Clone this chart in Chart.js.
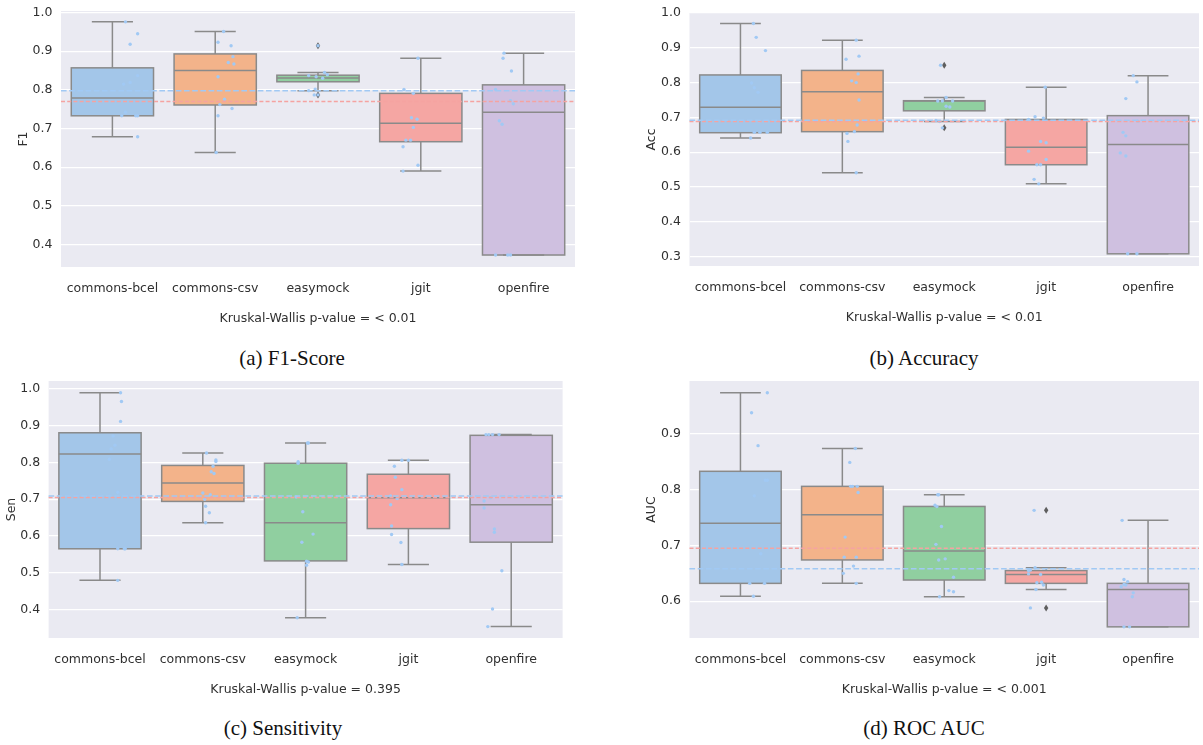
<!DOCTYPE html>
<html>
<head>
<meta charset="utf-8">
<script src="https://cdn.jsdelivr.net/npm/chart.js@4.4.1/dist/chart.umd.min.js"></script>
<style>
    html, body { margin: 0; padding: 0; background: #fff; overflow: hidden; }
    #fig { position: relative; width: 1203px; height: 745px; }
    #fig canvas { position: absolute; }
    .cap {
        position: absolute;
        font-family: "Liberation Serif", "Times New Roman", serif;
        font-size: 21px;
        color: #111;
        white-space: nowrap;
        transform: translate(-50%, -50%);
    }
</style>
</head>
<body>
<div id="fig"></div>
<script>
const projects = ["commons-bcel", "commons-csv", "easymock", "jgit", "openfire"];

// (a) F1-Score
const f1Low    = [0.679, 0.638, 0.798, 0.590, 0.373];
const f1Q1     = [0.733, 0.761, 0.821, 0.666, 0.373];
const f1Median = [0.779, 0.850, 0.831, 0.714, 0.742];
const f1Q3     = [0.857, 0.893, 0.838, 0.791, 0.813];
const f1High   = [0.976, 0.951, 0.845, 0.882, 0.895];
const f1Fliers = [[], [], [0.914, 0.787], [], []];
const f1Points = [
    [0.976, 0.945, 0.918, 0.837, 0.815, 0.819, 0.742, 0.733, 0.733, 0.733, 0.679],
    [0.951, 0.923, 0.914, 0.886, 0.871, 0.867, 0.834, 0.776, 0.762, 0.752, 0.733, 0.638],
    [0.914, 0.845, 0.837, 0.834, 0.839, 0.830, 0.802, 0.798, 0.787, 0.787],
    [0.882, 0.801, 0.791, 0.728, 0.724, 0.703, 0.670, 0.670, 0.653, 0.605, 0.590],
    [0.895, 0.882, 0.849, 0.801, 0.772, 0.764, 0.720, 0.711, 0.373, 0.373, 0.373]
];
const f1Jitter = [
    [-0.06, 0.07, -0.01, 0.07, -0.08, -0.01, -0.06, -0.10, 0.05, 0.07, 0.07],
    [-0.01, -0.07, 0.07, 0.09, 0.04, 0.10, -0.07, 0.00, -0.05, 0.08, -0.07, -0.09],
    [0.00, 0.07, -0.10, -0.02, 0.10, 0.05, -0.03, -0.10, -0.04, 0.00],
    [0.07, -0.08, 0.02, 0.00, 0.06, 0.02, -0.06, -0.01, -0.09, 0.07, -0.09],
    [-0.01, -0.02, 0.07, -0.10, 0.06, 0.09, -0.06, -0.03, -0.10, 0.03, 0.06]
];
const f1Refs  = [0.770, 0.798];   // red, blue
const f1Ticks = [0.4, 0.5, 0.6, 0.7, 0.8, 0.9, 1.0];
const f1Range = [0.342, 1.004];

// (b) Accuracy
const accLow    = [0.641, 0.541, 0.688, 0.509, 0.308];
const accQ1     = [0.656, 0.659, 0.719, 0.564, 0.308];
const accMedian = [0.729, 0.774, 0.747, 0.614, 0.622];
const accQ3     = [0.822, 0.835, 0.748, 0.694, 0.705];
const accHigh   = [0.970, 0.922, 0.757, 0.787, 0.820];
const accFliers = [[], [], [0.850, 0.670], [], []];
const accPoints = [
    [0.970, 0.930, 0.892, 0.799, 0.785, 0.772, 0.688, 0.657, 0.657, 0.657, 0.641],
    [0.922, 0.867, 0.876, 0.825, 0.805, 0.800, 0.750, 0.678, 0.654, 0.659, 0.631, 0.541],
    [0.850, 0.757, 0.747, 0.747, 0.747, 0.732, 0.730, 0.691, 0.688, 0.670],
    [0.787, 0.702, 0.698, 0.694, 0.631, 0.627, 0.603, 0.579, 0.564, 0.564, 0.522, 0.509],
    [0.820, 0.802, 0.754, 0.689, 0.657, 0.647, 0.598, 0.589, 0.308, 0.308]
];
const accJitter = [
    [-0.06, -0.03, 0.07, -0.08, -0.05, -0.01, 0.00, -0.05, 0.01, 0.09, -0.09],
    [0.05, -0.06, 0.08, 0.07, 0.00, 0.05, 0.08, 0.06, -0.05, 0.03, -0.04, 0.05],
    [-0.04, 0.02, -0.07, -0.02, 0.09, 0.02, 0.06, -0.09, -0.05, -0.02],
    [0.09, -0.02, 0.07, -0.09, 0.04, 0.10, -0.09, 0.10, 0.00, 0.04, -0.03, 0.02],
    [0.04, 0.08, -0.04, 0.09, -0.07, -0.04, -0.10, -0.04, -0.02, 0.08]
];
const accRefs  = [0.688, 0.692];
const accTicks = [0.3, 0.4, 0.5, 0.6, 0.7, 0.8, 0.9, 1.0];
const accRange = [0.273, 1.0];

// (c) Sensitivity
const senLow    = [0.479, 0.636, 0.377, 0.522, 0.353];
const senQ1     = [0.565, 0.694, 0.532, 0.620, 0.583];
const senMedian = [0.823, 0.744, 0.636, 0.704, 0.685];
const senQ3     = [0.881, 0.792, 0.798, 0.768, 0.874];
const senHigh   = [0.990, 0.826, 0.853, 0.806, 0.876];
const senFliers = [[], [], [], [], []];
const senPoints = [
    [0.990, 0.966, 0.912, 0.872, 0.847, 0.837, 0.809, 0.719, 0.565, 0.565, 0.565, 0.479],
    [0.826, 0.807, 0.803, 0.790, 0.775, 0.770, 0.717, 0.712, 0.700, 0.681, 0.663, 0.636],
    [0.853, 0.853, 0.802, 0.798, 0.706, 0.666, 0.605, 0.583, 0.531, 0.529, 0.520, 0.377],
    [0.806, 0.806, 0.790, 0.760, 0.726, 0.709, 0.702, 0.685, 0.627, 0.604, 0.582, 0.522],
    [0.876, 0.876, 0.876, 0.876, 0.704, 0.695, 0.676, 0.619, 0.610, 0.505, 0.401, 0.353]
];
const senJitter = [
    [0.02, 0.03, 0.02, -0.06, -0.04, -0.08, -0.10, -0.01, -0.01, 0.06, 0.07, -0.01],
    [-0.06, 0.04, 0.04, 0.01, -0.01, 0.02, -0.10, -0.02, -0.08, -0.07, -0.03, -0.07],
    [0.02, 0.03, -0.08, -0.08, -0.10, -0.03, 0.08, -0.04, 0.01, 0.03, 0.01, -0.09],
    [0.03, 0.10, -0.05, -0.04, 0.03, -0.09, -0.02, -0.09, -0.08, -0.08, 0.02, 0.03],
    [-0.07, -0.04, 0.00, 0.07, -0.02, -0.09, -0.09, 0.02, 0.02, 0.10, 0.00, -0.05]
];
const senRefs  = [0.705, 0.709];
const senTicks = [0.4, 0.5, 0.6, 0.7, 0.8, 0.9, 1.0];
const senRange = [0.322, 1.022];

// (d) ROC AUC
const aucLow    = [0.609, 0.632, 0.608, 0.621, 0.554];
const aucQ1     = [0.632, 0.674, 0.638, 0.632, 0.554];
const aucMedian = [0.740, 0.755, 0.690, 0.648, 0.621];
const aucQ3     = [0.833, 0.806, 0.770, 0.655, 0.632];
const aucHigh   = [0.974, 0.874, 0.791, 0.660, 0.745];
const aucFliers = [[], [], [], [0.763, 0.588], []];
const aucPoints = [
    [0.974, 0.938, 0.879, 0.817, 0.817, 0.789, 0.685, 0.632, 0.632, 0.609],
    [0.874, 0.849, 0.806, 0.806, 0.806, 0.795, 0.715, 0.679, 0.679, 0.663, 0.650, 0.632],
    [0.791, 0.791, 0.772, 0.770, 0.734, 0.702, 0.674, 0.676, 0.643, 0.619, 0.617, 0.608],
    [0.763, 0.660, 0.655, 0.656, 0.649, 0.648, 0.633, 0.634, 0.629, 0.621, 0.588],
    [0.745, 0.639, 0.635, 0.630, 0.629, 0.626, 0.615, 0.608, 0.554, 0.554]
];
const aucJitter = [
    [0.09, -0.08, -0.01, 0.07, 0.09, -0.05, 0.02, -0.10, 0.06, -0.06],
    [0.04, -0.02, -0.01, 0.01, 0.06, 0.07, -0.07, -0.08, 0.05, 0.02, -0.09, 0.05],
    [-0.07, -0.06, -0.10, -0.08, -0.03, -0.09, -0.06, 0.01, 0.10, 0.05, 0.10, -0.05],
    [-0.03, -0.02, -0.09, -0.07, -0.09, 0.04, 0.00, 0.05, 0.07, -0.01, -0.07],
    [-0.08, -0.06, -0.02, -0.06, -0.04, -0.09, 0.04, 0.03, -0.06, 0.00]
];
const aucRefs  = [0.695, 0.658];
const aucTicks = [0.6, 0.7, 0.8, 0.9];
const aucRange = [0.534, 0.995];

// colours
const boxColors = ["#a3c6e9", "#f3b38a", "#90cfa0", "#f5a6a3", "#cfc0e0"];
const edgeColor = "#8a8a8a";
const flierColor = "#5e5e5e";
const stripColor = "#a1c9f4";
const refColors = ["#f5a3a1", "#a1c9f4"];
const refDash = [[4, 2.2], [5.6, 2.6]];
const textColor = "#303030";
const sansFont = { family: "DejaVu Sans", size: 12.5 };

const panels = [
    { label: "F1", test: "Kruskal-Wallis p-value = < 0.01", caption: "(a) F1-Score",
      low: f1Low, q1: f1Q1, med: f1Median, q3: f1Q3, high: f1High, fliers: f1Fliers,
      points: f1Points, jitter: f1Jitter, refs: f1Refs, ticks: f1Ticks, range: f1Range,
      box: { left: 0, right: 600, plotLeft: 61, plotRight: 575, plotTop: 10, plotBottom: 267, yTitleX: 23.5, capX: 292, capY: 358 } },
    { label: "Acc", test: "Kruskal-Wallis p-value = < 0.01", caption: "(b) Accuracy",
      low: accLow, q1: accQ1, med: accMedian, q3: accQ3, high: accHigh, fliers: accFliers,
      points: accPoints, jitter: accJitter, refs: accRefs, ticks: accTicks, range: accRange,
      box: { left: 600, right: 1203, plotLeft: 689.5, plotRight: 1203, plotTop: 12.3, plotBottom: 266.7, yTitleX: 652, capX: 924, capY: 358 } },
    { label: "Sen", test: "Kruskal-Wallis p-value = 0.395", caption: "(c) Sensitivity",
      low: senLow, q1: senQ1, med: senMedian, q3: senQ3, high: senHigh, fliers: senFliers,
      points: senPoints, jitter: senJitter, refs: senRefs, ticks: senTicks, range: senRange,
      box: { left: 0, right: 600, plotLeft: 48.6, plotRight: 562.6, plotTop: 379.7, plotBottom: 638, yTitleX: 11.5, capX: 283, capY: 728 } },
    { label: "AUC", test: "Kruskal-Wallis p-value = < 0.001", caption: "(d) ROC AUC",
      low: aucLow, q1: aucQ1, med: aucMedian, q3: aucQ3, high: aucHigh, fliers: aucFliers,
      points: aucPoints, jitter: aucJitter, refs: aucRefs, ticks: aucTicks, range: aucRange,
      box: { left: 600, right: 1203, plotLeft: 689.5, plotRight: 1203, plotTop: 379.7, plotBottom: 638, yTitleX: 652, capX: 924, capY: 728 } }
];

const fig = document.getElementById("fig");
const TOP_PAD = 15;
const X_AXIS_H = 75;

// whiskers, caps, medians, fliers and reference lines drawn through the chart scales
function boxParts(p) {
    return {
        id: "boxParts",
        beforeDraw(chart) {
            const a = chart.chartArea;
            const ctx = chart.ctx;
            ctx.save();
            ctx.fillStyle = "#eaeaf2";
            ctx.fillRect(a.left, a.top, a.right - a.left, a.bottom - a.top);
            ctx.restore();
        },
        afterDatasetDraw(chart, args) {
            if (args.index !== 0) return;
            const ctx = chart.ctx;
            const xs = chart.scales.x;
            const ys = chart.scales.y;
            const bars = chart.getDatasetMeta(0).data;

            ctx.save();
            ctx.strokeStyle = edgeColor;
            ctx.lineWidth = 1.5;
            const seg = (x1, y1, x2, y2) => {
                ctx.beginPath();
                ctx.moveTo(x1, y1);
                ctx.lineTo(x2, y2);
                ctx.stroke();
            };

            p.med.forEach((m, i) => {
                const cx = xs.getPixelForValue(i);
                const half = bars[i].width / 2;
                const cap = half / 2;
                // box outline drawn centred on the edge, like matplotlib
                ctx.strokeRect(cx - half, ys.getPixelForValue(p.q3[i]), half * 2,
                    ys.getPixelForValue(p.q1[i]) - ys.getPixelForValue(p.q3[i]));
                seg(cx - half, ys.getPixelForValue(m), cx + half, ys.getPixelForValue(m));
                seg(cx, ys.getPixelForValue(p.q3[i]), cx, ys.getPixelForValue(p.high[i]));
                seg(cx, ys.getPixelForValue(p.q1[i]), cx, ys.getPixelForValue(p.low[i]));
                seg(cx - cap, ys.getPixelForValue(p.high[i]), cx + cap, ys.getPixelForValue(p.high[i]));
                seg(cx - cap, ys.getPixelForValue(p.low[i]), cx + cap, ys.getPixelForValue(p.low[i]));

                ctx.fillStyle = flierColor;
                p.fliers[i].forEach(v => {
                    const fy = ys.getPixelForValue(v);
                    ctx.beginPath();
                    ctx.moveTo(cx, fy - 3.5);
                    ctx.lineTo(cx + 2.2, fy);
                    ctx.lineTo(cx, fy + 3.5);
                    ctx.lineTo(cx - 2.2, fy);
                    ctx.closePath();
                    ctx.fill();
                });
            });
            ctx.restore();
        },
        afterDatasetsDraw(chart) {
            const ctx = chart.ctx;
            const a = chart.chartArea;
            const ys = chart.scales.y;
            ctx.save();
            ctx.lineWidth = 1.5;
            p.refs.forEach((v, k) => {
                const y = ys.getPixelForValue(v);
                ctx.strokeStyle = refColors[k];
                ctx.setLineDash(refDash[k]);
                ctx.beginPath();
                ctx.moveTo(a.left, y);
                ctx.lineTo(a.right, y);
                ctx.stroke();
            });
            ctx.restore();
        }
    };
}

function buildPanel(p) {
    const g = p.box;
    const canvas = document.createElement("canvas");
    const width = g.right - g.left;
    const height = Math.round(g.plotBottom - g.plotTop + TOP_PAD + X_AXIS_H);
    canvas.width = width;
    canvas.height = height;
    canvas.style.left = g.left + "px";
    canvas.style.top = (g.plotTop - TOP_PAD) + "px";
    fig.appendChild(canvas);

    const strip = p.points.flatMap((vals, i) =>
        vals.map((v, k) => ({ x: i + p.jitter[i][k], y: v }))
    );

    new Chart(canvas, {
        type: "bar",
        data: {
            labels: projects,
            datasets: [
                {
                    type: "bar",
                    data: p.q1.map((v, i) => [v, p.q3[i]]),
                    backgroundColor: boxColors,
                    borderWidth: 0,
                    grouped: false,
                    barPercentage: 0.8,
                    categoryPercentage: 1.0,
                    order: 2
                },
                {
                    type: "scatter",
                    xAxisID: "xj",
                    data: strip,
                    pointRadius: 1.7,
                    pointBackgroundColor: stripColor,
                    pointBorderWidth: 0,
                    order: 1
                }
            ]
        },
        plugins: [boxParts(p)],
        options: {
            responsive: false,
            animation: false,
            devicePixelRatio: 1,
            events: [],
            layout: {
                padding: { left: 0, right: width - (g.plotRight - g.left), top: TOP_PAD, bottom: 0 }
            },
            plugins: { legend: { display: false }, tooltip: { enabled: false } },
            scales: {
                x: {
                    type: "category",
                    offset: true,
                    grid: { display: false },
                    border: { display: false },
                    ticks: { padding: 6, color: textColor, font: sansFont, maxRotation: 0, autoSkip: false },
                    title: { display: true, text: p.test, color: textColor, font: sansFont, padding: { top: 0, bottom: 16 } },
                    afterFit: s => { s.height = X_AXIS_H; }
                },
                xj: { type: "linear", min: -0.5, max: 4.5, display: false },
                y: {
                    min: p.range[0],
                    max: p.range[1],
                    afterBuildTicks: s => { s.ticks = p.ticks.map(v => ({ value: v })); },
                    afterFit: s => { s.width = g.plotLeft - g.left; },
                    grid: { color: "#ffffff", lineWidth: 1.2, drawTicks: false },
                    border: { display: false },
                    ticks: { padding: 8.5, color: textColor, font: sansFont, callback: v => v.toFixed(1) },
                    title: { display: true, text: p.label, color: textColor, font: sansFont,
                             padding: { top: g.yTitleX - g.left - 7.5, bottom: 0 } }
                }
            }
        }
    });

    const cap = document.createElement("div");
    cap.className = "cap";
    cap.textContent = p.caption;
    cap.style.left = g.capX + "px";
    cap.style.top = g.capY + "px";
    fig.appendChild(cap);
}

panels.forEach(buildPanel);
</script>
</body>
</html>
